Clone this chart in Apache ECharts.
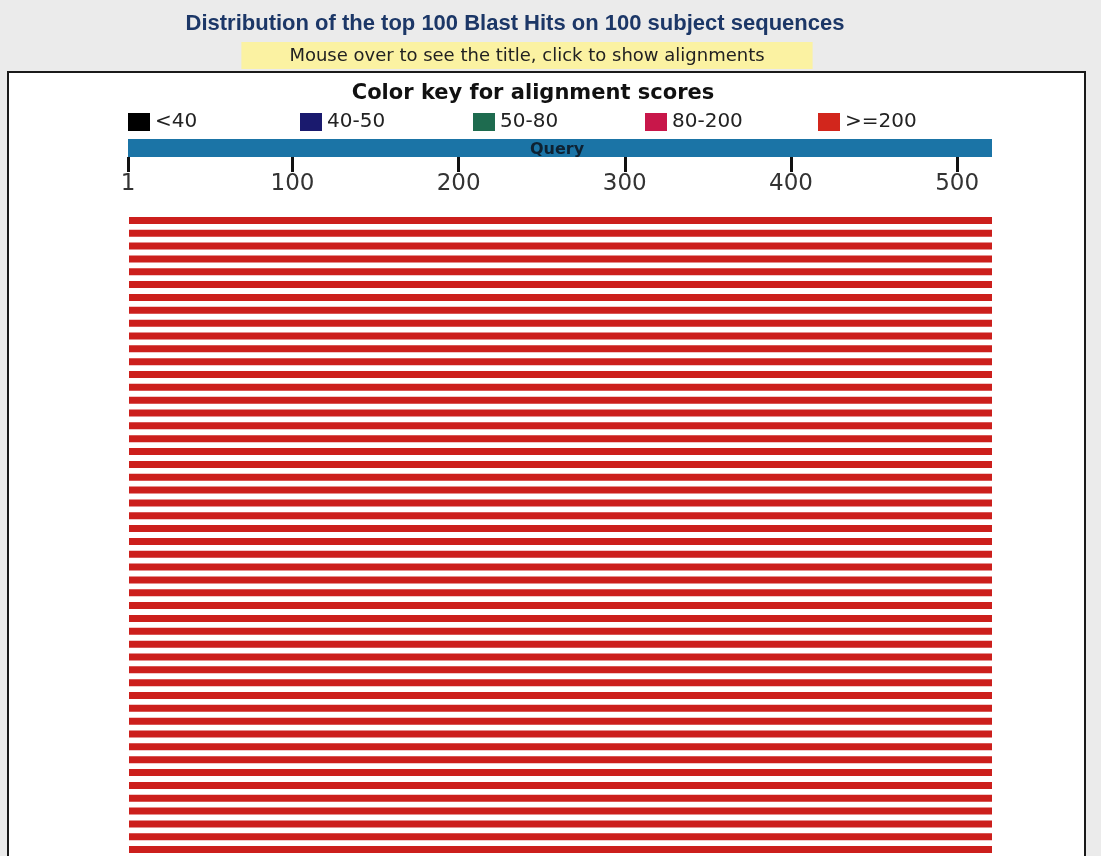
<!DOCTYPE html>
<html>
<head>
<meta charset="utf-8">
<title>Blast hits</title>
<script src="https://cdn.jsdelivr.net/npm/echarts@6/dist/echarts.min.js"></script>
<style>
  html, body { margin: 0; padding: 0; background: #ebebeb; }
  #main { width: 1101px; height: 856px; }
</style>
</head>
<body>
<div id="main"></div>
<script>
// query length and the tick labels shown under the query bar
const queryLength = 521;
const queryTicks = [1, 100, 200, 300, 400, 500];

// colour key bins
const scoreBins = ['<40', '40-50', '50-80', '80-200', '>=200'];
const binColors = ['#000000', '#1a1a6e', '#1e6b4f', '#c8174a', '#d2261c'];

// visible hits: [queryStart, queryEnd], all in the >=200 bin
const hitStarts = [1,1,1,1,1,1,1,1,1,1, 1,1,1,1,1,1,1,1,1,1, 1,1,1,1,1,1,1,1,1,1, 1,1,1,1,1,1,1,1,1,1, 1,1,1,1,1,1,1,1,1,1];
const hitEnds = [521,521,521,521,521,521,521,521,521,521, 521,521,521,521,521,521,521,521,521,521, 521,521,521,521,521,521,521,521,521,521, 521,521,521,521,521,521,521,521,521,521, 521,521,521,521,521,521,521,521,521,521];
const hitRows = hitStarts.map((s, i) => 'hit' + (i + 1));

const chart = echarts.init(document.getElementById('main'));

const legendX = [128, 300, 473, 645, 818];
const legends = scoreBins.map((name, i) => ({
  data: [name],
  left: legendX[i],
  top: 112,
  padding: 0,
  icon: 'rect',
  itemWidth: 22,
  itemHeight: 18,
  selectedMode: false,
  textStyle: { fontFamily: 'DejaVu Sans', fontSize: 20, color: '#222' }
}));

// empty series so that every bin shows up in the key
const keySeries = scoreBins.slice(0, 4).map((name, i) => ({
  name: name,
  type: 'custom',
  xAxisIndex: 1,
  yAxisIndex: 1,
  itemStyle: { color: binColors[i] },
  renderItem: () => null,
  data: []
}));

const option = {
  backgroundColor: '#ebebeb',
  animation: false,
  graphic: [{
    type: 'rect',
    left: 7, top: 71,
    shape: { width: 1077, height: 820 },
    style: { fill: '#ffffff', stroke: '#1a1a1a', lineWidth: 2 },
    z: -10
  }],
  title: [
    {
      text: 'Distribution of the top 100 Blast Hits on 100 subject sequences',
      left: 510, top: 8, textAlign: 'center',
      textStyle: { fontFamily: 'Liberation Sans', fontSize: 22, fontWeight: 'bold', color: '#1c3767' }
    },
    {
      text: 'Mouse over to see the title, click to show alignments',
      left: 479, top: 42, textAlign: 'center',
      backgroundColor: '#fbf2a2',
      padding: [5, 48, 4, 48],
      textStyle: { fontFamily: 'DejaVu Sans', fontSize: 18, fontWeight: 'normal', color: '#222' }
    },
    {
      text: 'Color key for alignment scores',
      left: 528, top: 78, textAlign: 'center',
      textStyle: { fontFamily: 'DejaVu Sans', fontSize: 21, fontWeight: 'bold', color: '#111' }
    }
  ],
  legend: legends,
  grid: [
    { left: 128, right: 109, top: 139, height: 18 },
    { left: 129, right: 109, top: 214, height: 643 }
  ],
  xAxis: [
    {
      gridIndex: 0, type: 'value', min: 1, max: queryLength, position: 'bottom',
      axisLine: { show: false },
      splitLine: { show: false },
      axisTick: { show: true, length: 15, customValues: queryTicks, lineStyle: { color: '#111', width: 3 } },
      axisLabel: { customValues: queryTicks, margin: 16, fontFamily: 'DejaVu Sans', fontSize: 23, color: '#333' }
    },
    {
      gridIndex: 1, type: 'value', min: 1, max: queryLength, show: false
    }
  ],
  yAxis: [
    { gridIndex: 0, type: 'category', data: ['Query'], show: false },
    { gridIndex: 1, type: 'category', data: hitRows, inverse: true, show: false }
  ],
  series: keySeries.concat([
    {
      name: 'Query',
      type: 'custom',
      xAxisIndex: 0, yAxisIndex: 0,
      data: [[1, queryLength, 0]],
      renderItem: function (params, api) {
        const a = api.coord([api.value(0), api.value(2)]);
        const b = api.coord([api.value(1), api.value(2)]);
        const h = api.size([0, 1])[1];
        return {
          type: 'group',
          children: [
            { type: 'rect', shape: { x: a[0], y: a[1] - h / 2, width: b[0] - a[0], height: h }, style: { fill: '#1b74a6' } },
            { type: 'text', x: (a[0] + b[0]) / 2 - 3, y: a[1] + 2, style: { text: 'Query', fill: '#0e2233', font: 'bold 16px DejaVu Sans', align: 'center', verticalAlign: 'middle' } }
          ]
        };
      }
    },
    {
      name: '>=200',
      type: 'custom',
      xAxisIndex: 1, yAxisIndex: 1,
      itemStyle: { color: binColors[4] },
      data: hitStarts.map((s, i) => [s, hitEnds[i], i]),
      renderItem: function (params, api) {
        const a = api.coord([api.value(0), api.value(2)]);
        const b = api.coord([api.value(1), api.value(2)]);
        return {
          type: 'rect',
          shape: { x: a[0], y: a[1] - 3.5, width: b[0] - a[0], height: 7 },
          style: { fill: '#cc1f1c' }
        };
      }
    }
  ])
};

chart.setOption(option);
</script>
</body>
</html>
